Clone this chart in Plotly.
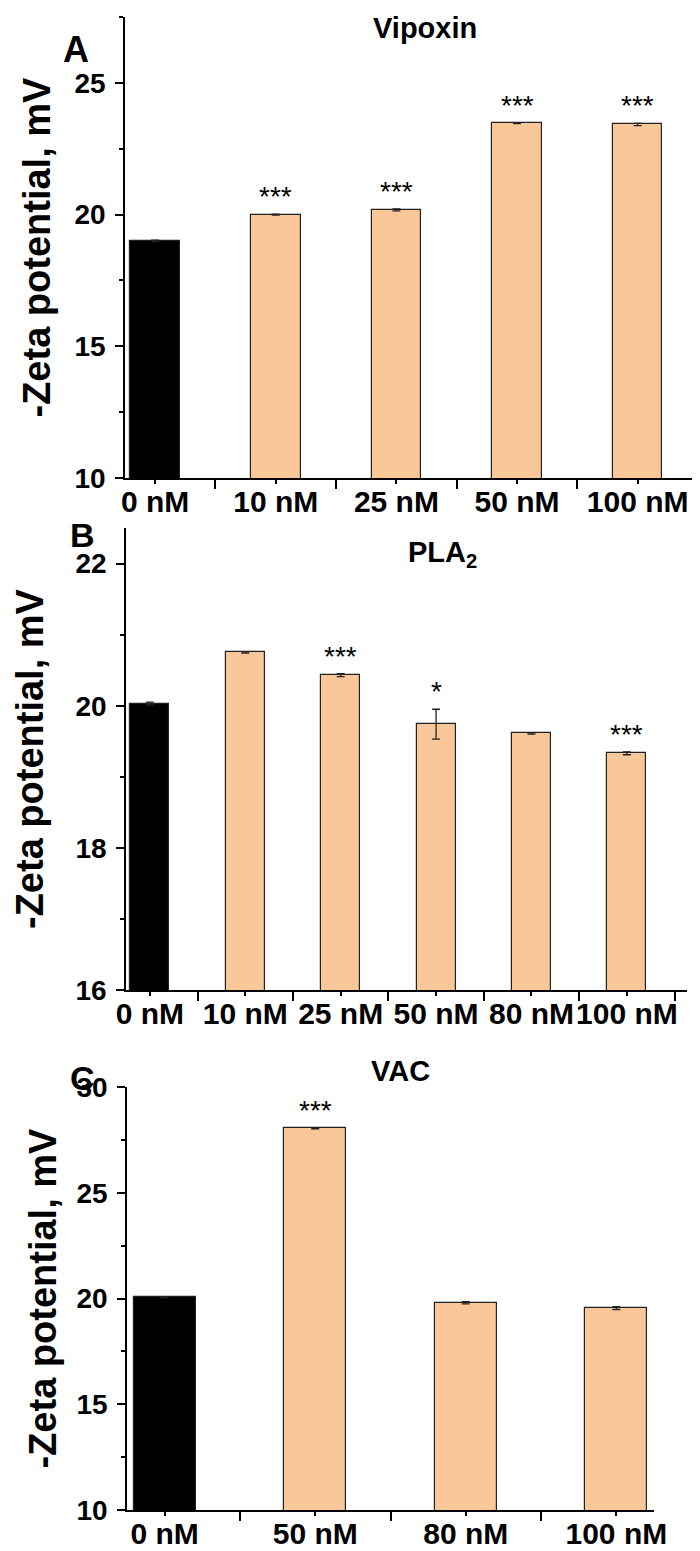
import plotly.graph_objects as go

# page body has an 8px margin: figure is placed at (8, 8) in the window
OX, OY = 8, 8
W, H = 692, 1543

# ---------------- data ----------------
a_labels = ["0 nM", "10 nM", "25 nM", "50 nM", "100 nM"]
a_values = [19.0, 20.0, 20.18, 23.47, 23.42]
a_errors = [0.03, 0.02, 0.04, 0.02, 0.04]
a_stars = ["", "***", "***", "***", "***"]

b_labels = ["0 nM", "10 nM", "25 nM", "50 nM", "80 nM", "100 nM"]
b_values = [20.03, 20.75, 20.43, 19.74, 19.61, 19.33]
b_errors = [0.02, 0.01, 0.02, 0.21, 0.01, 0.02]
b_stars = ["", "", "***", "*", "", "***"]

c_labels = ["0 nM", "50 nM", "80 nM", "100 nM"]
c_values = [20.05, 28.05, 19.8, 19.55]
c_errors = [0.02, 0.03, 0.05, 0.07]
c_stars = ["", "***", "", ""]

titles = ["Vipoxin", "PLA<sub>2</sub>", "VAC"]
letters = ["A", "B", "C"]
y_title = "-Zeta potential, mV"

# ---------------- layout geometry (window pixels) ----------------
panels = [
    dict(labels=a_labels, values=a_values, errors=a_errors, stars=a_stars,
         px=(125, 698), py=(17, 478), xr=[-0.25, 4.5], yr=[10, 27.5], dt=5, mdt=2.5,
         bounds=[0.5, 1.5, 2.5, 3.5, 4.5], title_xy=(425, 28), letter_xy=(76, 49),
         ytitle_x=36, letter_size=36),
    dict(labels=b_labels, values=b_values, errors=b_errors, stars=b_stars,
         px=(126, 687), py=(528, 990), xr=[-0.25, 5.63], yr=[16, 22.5], dt=2, mdt=1,
         bounds=[0.5, 1.5, 2.5, 3.5, 4.5, 5.5], title_xy=(442, 554), letter_xy=(82, 535),
         ytitle_x=30, letter_size=34),
    dict(labels=c_labels, values=c_values, errors=c_errors, stars=c_stars,
         px=(127, 654), py=(1087, 1510), xr=[-0.25, 3.25], yr=[10, 30], dt=5, mdt=2.5,
         bounds=[0.5, 1.5, 2.5], title_xy=(400, 1071), letter_xy=(82, 1078),
         ytitle_x=42, letter_size=34),
]


def fx(px):
    return (px - OX) / W


def fy(py):
    return 1 - (py - OY) / H


FONT = "Liberation Sans, Arial, sans-serif"
ORANGE = "#FAC898"

fig = go.Figure()
annotations = []
layout_axes = {}

for k, p in enumerate(panels):
    sfx = "" if k == 0 else str(k + 1)
    xa, ya = "x" + sfx, "y" + sfx
    n = len(p["labels"])
    xs = list(range(n))
    colors = ["black"] + [ORANGE] * (n - 1)
    fig.add_trace(go.Bar(
        x=xs, y=p["values"], width=0.41, xaxis=xa, yaxis=ya,
        marker=dict(color=colors, line=dict(color="#222222", width=1.2)),
        error_y=dict(type="data", array=p["errors"], visible=True,
                     color="#222222", thickness=1.3, width=4),
        showlegend=False, hoverinfo="skip",
    ))
    x0, x1 = p["px"]
    yt, yb = p["py"]
    layout_axes["xaxis" + sfx] = dict(
        domain=[fx(x0), min(fx(x1), 1.0)], anchor=ya, range=p["xr"], automargin=False,
        tickmode="array", tickvals=xs, ticktext=p["labels"], tickangle=0,
        ticks="outside", ticklen=4, tickwidth=1.5, tickcolor="black",
        ticklabelstandoff=-8,
        showline=True, linecolor="black", linewidth=1.5,
        showgrid=False, zeroline=False,
        tickfont=dict(family=FONT, size=30, color="black", weight="bold"),
        minor=dict(tickmode="array", tickvals=p["bounds"], ticks="outside",
                   ticklen=9, tickwidth=1.5, tickcolor="black", showgrid=False),
    )
    layout_axes["yaxis" + sfx] = dict(
        domain=[fy(yb), fy(yt)], anchor=xa, range=p["yr"], automargin=False,
        tickmode="linear", tick0=p["yr"][0], dtick=p["dt"],
        ticks="outside", ticklen=8, tickwidth=1.5, tickcolor="black",
        ticklabelstandoff=4,
        showline=True, linecolor="black", linewidth=1.5,
        showgrid=False, zeroline=False,
        tickfont=dict(family=FONT, size=28, color="black", weight="bold"),
        minor=dict(dtick=p["mdt"], ticks="outside", ticklen=4, tickwidth=1.5,
                   tickcolor="black", showgrid=False),
    )
    # significance stars
    for i, s in enumerate(p["stars"]):
        if s:
            annotations.append(dict(
                x=i, y=p["values"][i] + p["errors"][i], xref=xa, yref=ya,
                text=s, showarrow=False, yanchor="bottom", xanchor="center",
                font=dict(family=FONT, size=28, color="black"),
            ))
    # panel title
    tx, ty = p["title_xy"]
    annotations.append(dict(
        x=fx(tx), y=fy(ty), xref="paper", yref="paper", text=titles[k],
        showarrow=False, xanchor="center", yanchor="middle",
        font=dict(family=FONT, size=29, color="black", weight="bold"),
    ))
    # panel letter
    lx, ly = p["letter_xy"]
    annotations.append(dict(
        x=fx(lx), y=fy(ly), xref="paper", yref="paper", text=letters[k],
        showarrow=False, xanchor="center", yanchor="middle",
        font=dict(family=FONT, size=p["letter_size"], color="black", weight="bold"),
    ))
    # y-axis title
    annotations.append(dict(
        x=fx(p["ytitle_x"]), y=fy((yt + yb) / 2), xref="paper", yref="paper",
        text=y_title, textangle=-90, showarrow=False,
        xanchor="center", yanchor="middle",
        font=dict(family=FONT, size=38, color="black", weight="bold"),
    ))

fig.update_layout(
    width=W, height=H,
    margin=dict(l=0, r=0, t=0, b=0, autoexpand=False),
    paper_bgcolor="white", plot_bgcolor="white",
    annotations=annotations,
    bargap=0,
    **layout_axes,
)

fig.write_html("out.html")
